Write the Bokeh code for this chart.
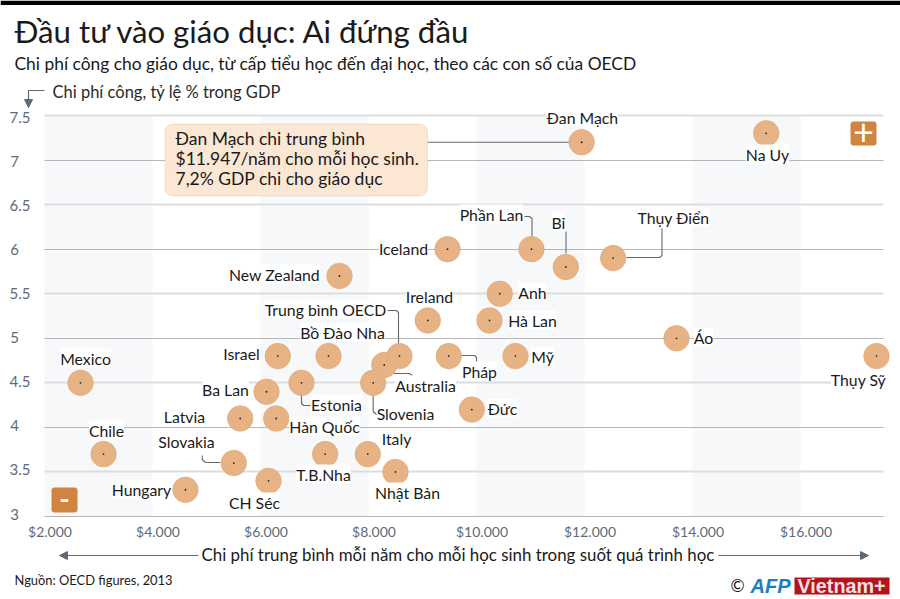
from bokeh.core.properties import value
from bokeh.embed import file_html
from bokeh.resources import INLINE
from bokeh.plotting import figure
from bokeh.models import (ColumnDataSource, LabelSet, Label, LinearAxis, Range1d,
                          FixedTicker, Grid, BoxAnnotation, Arrow, NormalHead)

# ---------- data ----------
countries = ["Đan Mạch", "Na Uy", "Phần Lan", "Bỉ", "Thụy Điển", "Iceland", "New Zealand", "Anh",
             "Ireland", "Hà Lan", "Áo", "Thụy Sỹ", "Mỹ", "Pháp", "Australia", "Trung bình OECD",
             "Slovenia", "Bồ Đào Nha", "Israel", "Estonia", "Ba Lan", "Latvia", "Hàn Quốc", "Đức",
             "Italy", "T.B.Nha", "Nhật Bản", "Slovakia", "CH Séc", "Hungary", "Mexico", "Chile"]
spending = [11947, 15365, 11018, 11654, 12531, 9463, 7463, 10431,
            9098, 10241, 13704, 17407, 10722, 9487, 8291, 8574,
            8087, 7259, 6320, 6759, 6111, 5624, 6291, 9913,
            7987, 7198, 8500, 5506, 6148, 4611, 2667, 3093]
gdp_share = [7.2, 7.3, 6.0, 5.8, 5.9, 6.0, 5.7, 5.5,
             5.2, 5.2, 5.0, 4.8, 4.8, 4.8, 4.7, 4.8,
             4.5, 4.8, 4.8, 4.5, 4.4, 4.1, 4.1, 4.2,
             3.7, 3.7, 3.5, 3.6, 3.4, 3.3, 4.5, 3.7]
x_ticks = [2000, 4000, 6000, 8000, 10000, 12000, 14000, 16000]
x_tick_labels = ["$2.000", "$4.000", "$6.000", "$8.000", "$10.000", "$12.000", "$14.000", "$16.000"]
y_ticks = [3, 3.5, 4, 4.5, 5, 5.5, 6, 6.5, 7, 7.5]
y_tick_labels = ["3", "3.5", "4", "4.5", "5", "5.5", "6", "6.5", "7", "7.5"]
band_starts = [2000, 6000, 10000, 14000]
band_ends = [4000, 8000, 12000, 16000]

title_text = "Đầu tư vào giáo dục: Ai đứng đầu"
subtitle_text = "Chi phí công cho giáo dục, từ cấp tiểu học đến đại học, theo các con số của OECD"
y_title = "Chi phí công, tỷ lệ % trong GDP"
x_title = "Chi phí trung bình mỗi năm cho mỗi học sinh trong suốt quá trình học"
source_text = "Nguồn: OECD figures, 2013"
callout_lines = ["Đan Mạch chi trung bình", "$11.947/năm cho mỗi học sinh.", "7,2% GDP chi cho giáo dục"]

# ---------- layout (page pixels) ----------
W, H = 900, 599
L, R, T, B = 44, 883, 115, 516
PX_X = 54 / 1000          # pixels per dollar
PX_Y = (B - T) / 4.5      # pixels per GDP point
FONT = "Lato"
INK = "#1a1a1a"
SLATE = "#5d6b78"
TEXT_LIFT = 1.5           # Lato sits this far below the middle line of the source's font


def dx(px):
    return 2000 + (px - L) / PX_X


def dy(py):
    return 3 + (B - py) / PX_Y


label_centers = {
    "Đan Mạch": (582, 118), "Na Uy": (767, 155), "Phần Lan": (491, 215), "Bỉ": (558, 223),
    "Thụy Điển": (673, 218), "Iceland": (403, 249), "New Zealand": (274, 275), "Anh": (532, 293),
    "Ireland": (429, 297), "Hà Lan": (532, 321), "Áo": (703, 338), "Thụy Sỹ": (858, 380),
    "Mỹ": (542, 357), "Pháp": (479, 372), "Australia": (425, 386), "Trung bình OECD": (325, 310),
    "Slovenia": (405, 414), "Bồ Đào Nha": (342, 333), "Israel": (241, 354), "Estonia": (336, 405),
    "Ba Lan": (225, 390), "Latvia": (184, 417), "Hàn Quốc": (324, 427), "Đức": (502, 409),
    "Italy": (396, 439), "T.B.Nha": (323, 475), "Nhật Bản": (407, 493), "Slovakia": (186, 442),
    "CH Séc": (254, 503), "Hungary": (141, 490), "Mexico": (85, 359), "Chile": (106, 431),
}
leaders = [
    [(427, 141.7), (581, 141.7)],
    [(524, 216), (529, 216), (531.5, 218), (531.5, 236)],
    [(565.5, 231), (565.5, 253)],
    [(626, 257), (659, 257), (661.5, 255), (661.5, 228)],
    [(387, 310), (396, 310), (398, 312), (398, 343)],
    [(461, 355), (474, 355), (476, 357), (476, 365)],
    [(392, 373), (409, 373), (411.5, 375), (411.5, 378)],
    [(301, 394), (301, 403), (303, 405), (310, 405)],
    [(372.7, 395), (372.7, 411), (376, 414), (380, 414)],
    [(201.7, 455), (201.7, 459), (205, 462), (220, 462)],
]

p = figure(width=W, height=H, output_backend="svg", toolbar_location=None,
           x_axis_type=None, y_axis_type=None,
           x_range=Range1d(dx(0), dx(W)), y_range=Range1d(dy(H), dy(0)),
           min_border=0, outline_line_color=None, background_fill_color="white",
           border_fill_color="white")

# axes fixed inside the full-page frame; label ranges are shifted as in the source
p.extra_x_ranges["labels"] = Range1d(dx(0) - 5.5 / PX_X, dx(W) - 5.5 / PX_X)
lab_sc = (514 - 117) / 4.5
p.extra_y_ranges["labels"] = Range1d(3 - (H - 513) / lab_sc, 3 + 513 / lab_sc)
xaxis = LinearAxis(x_range_name="labels", ticker=FixedTicker(ticks=x_ticks), fixed_location=dy(511),
                   major_label_overrides=dict(zip(x_ticks, x_tick_labels)),
                   axis_line_color=None, major_tick_line_color=None, minor_tick_line_color=None,
                   major_label_standoff=5, major_label_text_color=SLATE,
                   major_label_text_font=FONT, major_label_text_font_size="14px")
# the source's y labels are flush left: pad the short ones so that all start at the same x
y_overrides = {t: s if "." in s else s + "\u00a0\u00a0\u00a0" for t, s in zip(y_ticks, y_tick_labels)}
yaxis = LinearAxis(y_range_name="labels", ticker=FixedTicker(ticks=y_ticks), fixed_location=dx(L),
                   major_label_overrides=y_overrides,
                   axis_line_color=None, major_tick_line_color=None, minor_tick_line_color=None,
                   major_label_standoff=8, major_label_text_color=SLATE,
                   major_label_text_font=FONT, major_label_text_font_size="15px")
p.add_layout(xaxis, "below")
p.add_layout(yaxis, "left")

# grid
p.add_layout(Grid(dimension=1, ticker=FixedTicker(ticks=[t for t in y_ticks if t != int(t)]),
                  cross_bounds=(dx(L), dx(R)),
                  grid_line_color="#dcdde0", grid_line_width=2.2, level="underlay"))
p.add_layout(Grid(dimension=1, ticker=FixedTicker(ticks=[t for t in y_ticks if t == int(t)]),
                  cross_bounds=(dx(L), dx(R)),
                  grid_line_color="#b4b6b9", grid_line_width=1.2, level="underlay"))
p.quad(left=band_starts, right=band_ends, bottom=3, top=7.5, fill_color="#f7f8fa",
       line_color=None, level="image")

# country labels
label_x_off = [label_centers[c][0] - (L + (v - 2000) * PX_X) for c, v in zip(countries, spending)]
label_y_off = [(B - (v - 3) * PX_Y) - label_centers[c][1] + TEXT_LIFT for c, v in zip(countries, gdp_share)]
src = ColumnDataSource(dict(x=spending, y=gdp_share, name=countries, xo=label_x_off, yo=label_y_off))
p.add_layout(LabelSet(x="x", y="y", text="name", source=src, x_offset="xo", y_offset="yo",
                      text_align="center", text_baseline="middle", text_font=value(FONT),
                      text_font_size="15.8px", text_color=INK, background_fill_color="white",
                      level="glyph"))

# leaders, dots
p.multi_line([[dx(a) for a, _ in s] for s in leaders], [[dy(b) for _, b in s] for s in leaders],
             line_color="#66696c", line_width=1.1)
p.scatter("x", "y", source=src, size=25.5, fill_color="#e8b384", line_color="#dfa878", line_width=0.7)
p.scatter("x", "y", source=src, size=1.8, fill_color="#222222", line_color=None)


def box(x0, x1, y0, y1, fill, line=None, radius=0):
    p.add_layout(BoxAnnotation(left=dx(x0), right=dx(x1), bottom=dy(y1), top=dy(y0),
                               fill_color=fill, fill_alpha=1, line_color=line, line_width=1,
                               border_radius=radius, level="annotation", editable=False))


def text(px, py, s, size, color=INK, align="left", font=FONT, style="normal"):
    p.add_layout(Label(x=dx(px), y=dy(py), text=s, text_font_size=f"{size}px", text_color=color,
                       text_align=align, text_baseline="middle", text_font=font,
                       text_font_style=style, level="overlay"))


# black band
box(0, W, 0, 4.5, "#000000")

# header and footer
text(14, 30, title_text, 31.2)
text(14, 63, subtitle_text, 17.4)
text(52, 91, y_title, 16.5, color="#2a2a2a")
text(14, 579, source_text, 12.9)
text(201, 554, x_title, 16.9)

# axis arrows
head = dict(size=8, fill_color=SLATE, line_color=SLATE)
p.line([dx(44), dx(28), dx(28)], [dy(90), dy(90), dy(100)], line_color=SLATE, line_width=1.2)
p.add_layout(Arrow(end=NormalHead(**head), x_start=dx(28), y_start=dy(98), x_end=dx(28), y_end=dy(107),
                   line_color=SLATE, line_width=1.2))
p.add_layout(Arrow(end=NormalHead(**head), x_start=dx(198), y_start=dy(555), x_end=dx(59), y_end=dy(555),
                   line_color=SLATE, line_width=1.2))
p.add_layout(Arrow(end=NormalHead(**head), x_start=dx(718), y_start=dy(555), x_end=dx(868), y_end=dy(555),
                   line_color=SLATE, line_width=1.2))

# callout
box(164.5, 427, 123.5, 195.5, "#fbe7d3", "#e3ad7f", 8)
for yy, line in zip((138, 158, 178), callout_lines):
    text(175, yy, line, 17.5)

# plus / minus
box(850, 876, 121, 145, "#cf8440", None, 3)
box(51, 77, 487, 512, "#cf8440", None, 3)
text(863, 131.5, "+", 36, color="white", align="center")
text(64, 497.5, "-", 28, color="white", align="center", style="bold")

# credit
text(737, 585, "©", 17, align="center")
text(750, 585, "AFP", 20, color="#1c7dc4", font="Liberation Sans", style="bold italic")
box(794, 889, 577, 594, "#b5121b")
text(797, 585.5, "Vietnam+", 19.8, color="#f0e0e0", font="Liberation Sans", style="bold")

open("out.html", "w").write(file_html(p, INLINE))
